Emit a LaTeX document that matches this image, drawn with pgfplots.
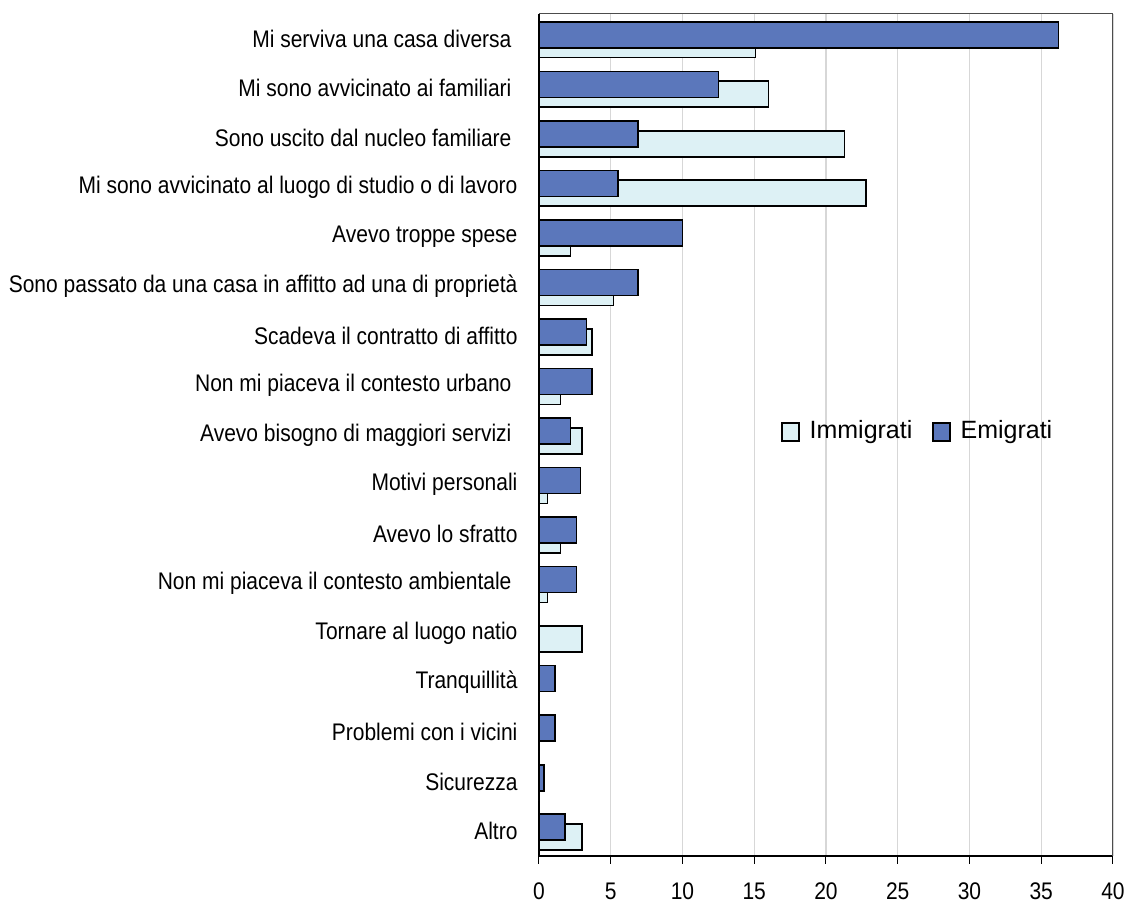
\documentclass[border=0pt]{standalone}
\usepackage{fontspec}
\setmainfont{Liberation Sans}[FakeStretch=0.875]
\newfontfamily\legendfont{Liberation Sans}
\usepackage{pgfplots}
\usepackage{pgfplotstable}
\pgfplotsset{compat=1.18}
\definecolor{emi}{RGB}{91,119,187}
\definecolor{imm}{RGB}{221,241,245}
\definecolor{gridc}{RGB}{215,215,215}
\pgfplotstableread{
c v
16 15.1
15 16.0
14 21.3
13 22.8
12 2.2
11 5.2
10 3.7
9 1.5
8 3.0
7 0.6
6 1.5
5 0.6
4 3.0
3 0
2 0
1 0
0 3.0
}\imm
\pgfplotstableread{
c v
16 36.2
15 12.5
14 6.9
13 5.5
12 10.0
11 6.9
10 3.3
9 3.7
8 2.2
7 2.9
6 2.6
5 2.6
4 0
3 1.1
2 1.1
1 0.35
0 1.8
}\emi
\newcommand{\tsp}{\kern6pt}
\begin{document}
\begin{tikzpicture}
\begin{axis}[
  name=ax,
  scale only axis,
  width=574pt, height=842pt,
  xbar,
  xmin=0, xmax=40,
  ymin=-0.5, ymax=16.5,
  xtick={0,5,...,40},
  ytick={0,...,16},
  yticklabels={Altro, Sicurezza, Problemi con i vicini, Tranquillità, Tornare al luogo natio, Non mi piaceva il contesto ambientale\tsp, Avevo lo sfratto, Motivi personali, Avevo bisogno di maggiori servizi\tsp, Non mi piaceva il contesto urbano\tsp, Scadeva il contratto di affitto, Sono passato da una casa in affitto ad una di proprietà, Avevo troppe spese, Mi sono avvicinato al luogo di studio o di lavoro, Sono uscito dal nucleo familiare\tsp, Mi sono avvicinato ai familiari\tsp, Mi serviva una casa diversa\tsp},
  axis x line*=bottom,
  axis y line*=left,
  axis line style={-, line width=1.3pt, black},
  xmajorgrids,
  major grid style={gridc, line width=1.3pt},
  tick align=outside,
  x tick style={black, line width=1pt},
  major tick length=8pt,
  y tick style={draw=none},
  /pgf/number format/assume math mode=true,
  every tick label/.append style={font=\fontsize{24}{28}\selectfont},
  yticklabel style={xshift=-10pt},
  xticklabel style={yshift=-15pt},
  bar width=0.525,
  clip=false,
  legend style={at={(rel axis cs:0.66,0.506)}, anchor=center, draw=none, fill=none,
    font=\legendfont\fontsize{25}{30}\selectfont,
    /tikz/every odd column/.append style={column sep=8pt},
    /tikz/every even column/.append style={column sep=18pt}},
  legend columns=2,
  legend image code/.code={\draw[#1, line width=1.2pt] (0pt,-11pt) rectangle (17pt,7pt);},
]
\addplot[fill=imm, draw=black, line width=1.6pt, bar shift=-0.12] table[x=v, y=c] {\imm};
\addlegendentry{Immigrati}
\addplot[fill=emi, draw=black, line width=1.6pt, bar shift=0.08] table[x=v, y=c] {\emi};
\addlegendentry{Emigrati}
\draw[black!70, line width=1pt] (rel axis cs:0,1) -- (rel axis cs:1,1) -- (rel axis cs:1,0);
\end{axis}
\pgfresetboundingbox
\path ([shift={(-539pt,-47pt)}]ax.south west) rectangle ([shift={(14pt,14pt)}]ax.north east);
\end{tikzpicture}
\end{document}
